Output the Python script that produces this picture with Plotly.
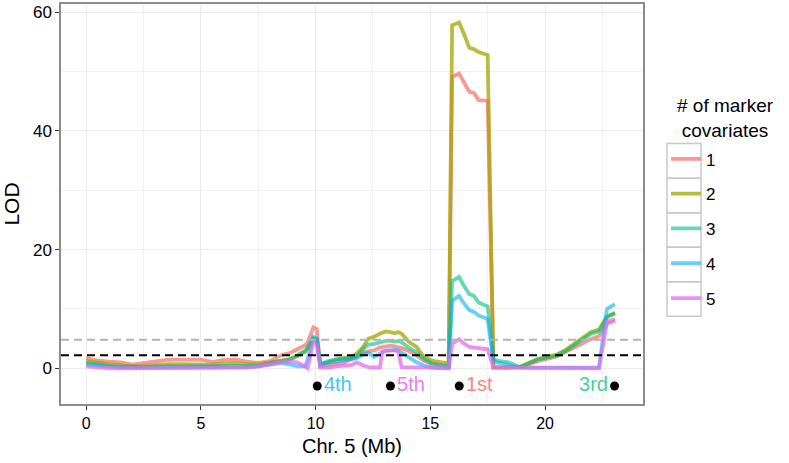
import plotly.graph_objects as go

# ---- data ----
pos_mb = [0.0, 0.5, 1.0, 1.5, 2.0, 2.5, 3.0, 3.5, 4.0, 4.5, 5.0, 5.5, 6.0, 6.5, 7.0, 7.5, 8.0, 8.5,
          8.9, 9.2, 9.55, 9.65, 9.9, 10.05, 10.2, 10.55, 10.9, 11.2, 11.55, 11.8, 12.05, 12.3, 12.55,
          12.8, 12.9, 13.05, 13.25, 13.45, 13.6, 13.75, 14.05, 14.4, 14.7, 15.05, 15.5, 15.8, 15.95,
          16.25, 16.45, 16.7, 16.9, 17.1, 17.5, 17.75, 17.9, 18.4, 18.9, 19.7, 20.5, 20.9, 21.5, 22.0,
          22.35, 22.7, 23.05]

lod_1 = [1.7, 1.3, 1.1, 1.0, 0.6, 0.9, 1.2, 1.4, 1.45, 1.5, 1.45, 1.05, 1.4, 1.5, 1.1, 0.9, 1.2, 2.2,
         2.6, 3.2, 3.9, 4.3, 6.9, 6.6, 0.3, 0.5, 0.7, 0.9, 1.5, 2.0, 2.7, 2.9, 3.0,
         3.5, 3.6, 3.7, 3.8, 3.7, 3.6, 3.4, 2.9, 2.2, 1.3, 0.8, 0.4, 0.3, 49.1,
         49.7, 48.3, 46.6, 46.4, 45.2, 45.1, 0.2, 0.2, 0.1, 0.2, 1.2, 2.0, 2.8, 4.0, 4.9,
         5.4, 7.5, 8.0]

lod_2 = [1.2, 0.9, 0.7, 0.5, 0.3, 0.4, 0.6, 0.7, 0.7, 0.7, 0.6, 0.6, 0.8, 0.9, 0.7, 0.7, 1.0, 1.3,
         1.5, 2.0, 2.8, 3.3, 5.0, 4.8, 0.6, 1.0, 1.5, 1.7, 1.9, 2.5, 3.5, 5.0, 5.3,
         5.8, 6.0, 6.2, 6.1, 5.9, 6.1, 5.8, 4.5, 3.6, 2.0, 1.3, 1.0, 0.8, 57.8,
         58.3, 56.5, 54.0, 53.8, 53.3, 52.8, 0.1, 0.1, 0.1, 0.2, 1.6, 2.3, 3.1, 4.8, 6.1,
         6.5, 8.8, 9.2]

lod_3 = [0.9, 0.6, 0.4, 0.3, 0.2, 0.2, 0.3, 0.3, 0.3, 0.3, 0.3, 0.3, 0.3, 0.3, 0.3, 0.4, 0.8, 1.3,
         1.6, 2.2, 3.0, 3.5, 5.0, 4.7, 0.7, 1.2, 1.5, 1.6, 1.7, 2.0, 3.2, 4.0, 4.1,
         4.4, 4.5, 4.6, 4.6, 4.5, 4.6, 4.4, 3.5, 2.7, 1.6, 0.8, 0.5, 0.4, 14.7,
         15.4, 14.0, 12.5, 12.2, 11.1, 10.4, 1.5, 1.3, 1.0, 0.2, 1.5, 2.1, 2.9, 4.5, 5.8,
         6.2, 8.5, 9.4]

lod_4 = [0.6, 0.4, 0.2, 0.1, 0.1, 0.1, 0.15, 0.15, 0.15, 0.15, 0.15, 0.15, 0.15, 0.2, 0.2, 0.3, 0.6, 0.9,
         0.6, 0.3, 0.3, 1.5, 5.3, 5.0, 0.7, 0.9, 1.2, 1.4, 1.5, 1.7, 2.3, 2.6, 1.9,
         2.5, 2.8, 3.0, 3.0, 3.1, 3.0, 2.6, 1.9, 1.0, 0.5, 0.1, 0.0, 0.0, 11.4,
         12.2, 11.0, 9.8, 9.5, 8.9, 8.3, 1.2, 1.0, 0.6, 0.1, 0.1, 0.05, 0.05, 0.05, 0.1,
         0.1, 10.0, 10.8]

lod_5 = [0.3, 0.1, 0.0, 0.0, 0.0, 0.0, 0.05, 0.05, 0.05, 0.05, 0.05, 0.05, 0.05, 0.1, 0.1, 0.3, 0.7, 1.0,
         1.1, 1.0, 0.3, 0.0, 4.4, 4.0, 0.1, 0.1, 0.3, 0.4, 0.5, 1.0, 0.5, 0.2, 0.1,
         0.1, 2.8, 2.9, 3.0, 3.0, 2.8, 0.2, 0.2, 0.1, 0.2, 0.1, 0.1, 0.0, 4.1,
         4.9, 4.2, 3.6, 3.5, 3.3, 3.2, 0.1, 0.1, 0.0, 0.0, 0.0, 0.0, 0.0, 0.0, 0.0,
         0.0, 7.8, 8.3]

series_names = ["1", "2", "3", "4", "5"]
series_values = [lod_1, lod_2, lod_3, lod_4, lod_5]

marker_pos = [10.07, 13.26, 16.26, 23.03]
marker_lod = [-3, -3, -3, -3]
marker_labels = ["4th", "5th", "1st", "3rd"]
marker_series = [3, 4, 0, 2]  # index of series colour

threshold_high = 4.8
threshold_low = 2.2

x_ticks = [0, 5, 10, 15, 20]
y_ticks = [0, 20, 40, 60]

# ---- style ----
colors = ["rgba(248,118,109,0.75)", "rgba(163,165,0,0.75)", "rgba(0,191,125,0.6)",
          "rgba(0,176,246,0.6)", "rgba(231,107,243,0.75)"]
text_colors = ["rgba(248,118,109,0.9)", "rgba(163,165,0,0.9)", "rgba(0,191,125,0.75)",
               "rgba(0,176,246,0.75)", "rgba(231,107,243,0.9)"]
FONT = "Liberation Sans, Arial, Helvetica, sans-serif"

fig = go.Figure()

for i, (name, vals) in enumerate(zip(series_names, series_values)):
    fig.add_trace(go.Scatter(
        x=pos_mb, y=vals, mode="lines", name=name, legendgroup=name,
        line=dict(color=colors[i], width=3.8),
    ))

fig.add_trace(go.Scatter(
    x=marker_pos, y=marker_lod, mode="markers+text",
    text=marker_labels,
    textposition=["middle right", "middle right", "middle right", "middle left"],
    textfont=dict(size=20, family=FONT, color=[text_colors[k] for k in marker_series]),
    marker=dict(color="black", size=9),
    showlegend=False, hoverinfo="skip", cliponaxis=False,
))

for yv, col in [(threshold_high, "#b3b3b3"), (threshold_low, "black")]:
    fig.add_shape(type="line", xref="paper", x0=0, x1=1, yref="y", y0=yv, y1=yv,
                  line=dict(color=col, width=2, dash="8px,5px"), layer="above")

# legend key boxes (ggplot style)
L, R, T, B = 61, 643, 2, 404
W, H = R - L, B - T
def px_x(p): return (p - L) / W
def px_y(p): return (B - p) / H
box_top = 142.3
box_h = 34.7
for i in range(len(series_names)):
    fig.add_shape(type="rect", xref="paper", yref="paper",
                  x0=px_x(667), x1=px_x(701),
                  y0=px_y(box_top + i * box_h), y1=px_y(box_top + (i + 1) * box_h),
                  line=dict(color="#c8c8c8", width=1.5), fillcolor="rgba(0,0,0,0)")

fig.add_annotation(xref="paper", yref="paper", x=px_x(725), y=px_y(117),
                   text="# of marker<br>covariates", showarrow=False,
                   font=dict(size=19, family=FONT, color="black"),
                   xanchor="center", yanchor="middle", align="center")

fig.add_annotation(xref="paper", yref="paper", x=0.5, y=px_y(446),
                   text="Chr. 5 (Mb)", showarrow=False,
                   font=dict(size=20, family=FONT, color="black"),
                   xanchor="center", yanchor="middle")

fig.update_layout(
    width=789, height=463,
    margin=dict(l=L, r=789 - R, t=T, b=463 - B),
    paper_bgcolor="white", plot_bgcolor="white",
    font=dict(family=FONT, color="black"),
    showlegend=True,
    legend=dict(x=px_x(666), y=px_y(140), xanchor="left", yanchor="top",
                font=dict(size=17, family=FONT, color="black"),
                tracegroupgap=9.7, traceorder="grouped", itemwidth=30,
                bgcolor="rgba(0,0,0,0)"),
    xaxis=dict(range=[-1.1, 24.27], tickvals=x_ticks, ticks="outside", ticklen=4,
               tickcolor="#333333", tickfont=dict(size=16, color="black"),
               showgrid=True, gridcolor="#ebebeb", gridwidth=1.2,
               minor=dict(dtick=2.5, showgrid=True, gridcolor="#f2f2f2", gridwidth=0.8),
               showline=True, mirror=True, linecolor="#8c8c8c", linewidth=1.5,
               zeroline=False),
    yaxis=dict(range=[-6.03, 61.4], tickvals=y_ticks, ticks="outside", ticklen=4,
               tickcolor="#333333", tickfont=dict(size=17, color="black"),
               showgrid=True, gridcolor="#ebebeb", gridwidth=1.2,
               minor=dict(dtick=10, showgrid=True, gridcolor="#f2f2f2", gridwidth=0.8),
               showline=True, mirror=True, linecolor="#8c8c8c", linewidth=1.5,
               zeroline=False,
               title=dict(text="LOD", font=dict(size=21), standoff=10)),
)

fig.write_html("out.html", config={"displayModeBar": False},
               post_script="document.body.style.margin='0';")
